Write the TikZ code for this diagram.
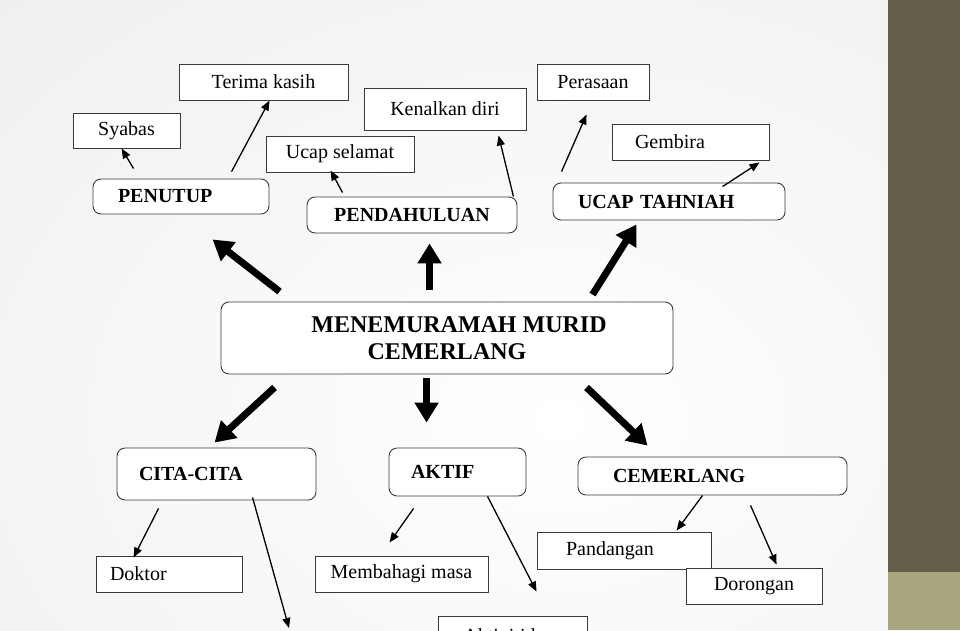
\documentclass[tikz,border=0pt]{standalone}
\usepackage{fontspec}
\setmainfont{Liberation Serif}
\usetikzlibrary{arrows.meta}
\definecolor{jalur}{HTML}{655E49}
\definecolor{jalurbawah}{HTML}{A8A67E}
\definecolor{garis}{HTML}{3A3A3A}
\tikzset{
  kotak/.style={draw=garis, line width=0.9pt, fill=white, minimum height=36pt,
    inner xsep=10pt, font=\fontsize{20}{22}\selectfont},
  tajuk/.style={kotak, rounded corners=8pt, font=\bfseries\fontsize{20}{22}\selectfont},
  panah/.style={-{Triangle[length=10pt,width=8pt]}, line width=1.3pt},
  panahbesar/.style={-{Triangle[length=20pt,width=23pt]}, line width=7pt},
}
\begin{document}
\begin{tikzpicture}[x=1pt,y=-1pt]
  % Latar belakang
  \useasboundingbox (0,0) rectangle (960,630);
  \clip (0,0) rectangle (960,630);
  \fill[white] (0,0) rectangle (888,630);
  \shade[inner color=white, outer color=black!11] (-840,-630) rectangle (1960,1470);
  \fill[jalur] (888,0) rectangle (960,572);
  \fill[jalurbawah] (888,572) rectangle (960,630);

  % Tajuk utama
  \node[tajuk, minimum width=452pt, minimum height=72pt, align=center,
    font=\bfseries\fontsize{24}{27}\selectfont] (utama) at (447,338)
    {\hspace*{24pt}MENEMURAMAH MURID\\CEMERLANG};

  % Cabang atas
  \node[tajuk, text width=126pt, inner xsep=25pt, align=left, minimum height=35pt]
    (penutup) at (181,196.5) {PENUTUP};
  \node[tajuk, minimum width=210pt] (pendahuluan) at (412,215) {PENDAHULUAN};
  \node[tajuk, text width=182pt, inner xsep=25pt, align=left, minimum height=37pt]
    (tahniah) at (669,201.5) {UCAP TAHNIAH};

  \node[kotak, minimum width=107pt, minimum height=35pt] (syabas) at (126.5,130.5) {Syabas};
  \node[kotak, minimum width=169pt] (terima) at (263.5,82) {Terima kasih};
  \node[kotak, minimum width=148pt] (selamat) at (340,154) {Ucap selamat};
  \node[kotak, minimum width=162pt, minimum height=42pt] (kenal) at (445,109) {Kenalkan diri};
  \node[kotak, minimum width=112pt] (perasaan) at (593,82) {Perasaan};
  \node[kotak, text width=111pt, inner xsep=23pt, align=left] (gembira) at (690.5,142) {Gembira};

  % Cabang bawah
  \node[tajuk, text width=155pt, inner xsep=22pt, align=left, minimum height=52pt]
    (cita) at (216.5,474) {CITA-CITA};
  \node[tajuk, text width=93pt, inner xsep=22pt, align=left, minimum height=48pt]
    (aktif) at (457.5,472) {AKTIF};
  \node[tajuk, text width=199pt, inner xsep=35pt, align=left, minimum height=38pt]
    (cemerlang) at (712.5,476) {CEMERLANG};

  \node[kotak, text width=118pt, inner xsep=14pt, align=left] (doktor) at (169,574) {Doktor};
  \node[kotak, minimum width=173pt] (masa) at (401.5,574) {Membahagi masa};
  \node[kotak, minimum width=149pt, minimum height=40pt] (luar) at (512.5,636) {Aktiviti luar};
  \node[kotak, text width=116pt, inner xsep=29pt, align=left, minimum height=37pt]
    (pandangan) at (624,550.5) {Pandangan};
  \node[kotak, minimum width=136pt] (dorongan) at (754,586) {Dorongan};
  \coordinate (bawah) at (289,628);

  % Anak panah besar
  \draw[panahbesar] ([xshift=59pt,yshift=10pt]utama.north west) -- ([xshift=120pt,yshift=-25pt]penutup.south west);
  \draw[panahbesar] ([xshift=209pt,yshift=12pt]utama.north west) -- ([xshift=123pt,yshift=-10pt]pendahuluan.south west);
  \draw[panahbesar] ([xshift=372pt,yshift=7pt]utama.north west) -- ([xshift=84pt,yshift=-4pt]tahniah.south west);
  \draw[panahbesar] ([xshift=54pt,yshift=-13pt]utama.south west) -- ([xshift=98pt,yshift=5pt]cita.north west);
  \draw[panahbesar] ([xshift=206pt,yshift=-4pt]utama.south west) -- ([xshift=38pt,yshift=25pt]aktif.north west);
  \draw[panahbesar] ([xshift=366pt,yshift=-13pt]utama.south west) -- ([xshift=70pt,yshift=11pt]cemerlang.north west);

  % Anak panah kecil
  \draw[panah] ([xshift=41pt,yshift=10pt]penutup.north west) -- ([xshift=49pt]syabas.south west);
  \draw[panah] ([xshift=139pt,yshift=7pt]penutup.north west) -- ([xshift=91pt]terima.south west);
  \draw[panah] ([xshift=36pt,yshift=4pt]pendahuluan.north west) -- ([xshift=65pt,yshift=2pt]selamat.south west);
  \draw[panah] ([xshift=-4pt]pendahuluan.north east) -- ([xshift=135pt,yshift=-5pt]kenal.south west);
  \draw[panah] ([xshift=9pt,yshift=11pt]tahniah.north west) -- ([xshift=50pt,yshift=-14pt]perasaan.south west);
  \draw[panah] ([xshift=170pt,yshift=-4pt]tahniah.north west) -- ([xshift=148pt,yshift=-2pt]gembira.south west);
  \draw[panah] ([xshift=42pt,yshift=-8pt]cita.south west) -- ([xshift=38pt,yshift=-2pt]doktor.north west);
  \draw[panah] ([xshift=136pt,yshift=3pt]cita.south west) -- (bawah);
  \draw[panah] ([xshift=25pt,yshift=-12pt]aktif.south west) -- ([xshift=75pt,yshift=13pt]masa.north west);
  \draw[panah] ([xshift=99pt]aktif.south west) -- ([xshift=99pt,yshift=24pt]luar.north west);
  \draw[panah] ([xshift=125pt]cemerlang.south west) -- ([xshift=140pt,yshift=1pt]pandangan.north west);
  \draw[panah] ([xshift=173pt,yshift=-10pt]cemerlang.south west) -- ([xshift=91pt,yshift=3pt]dorongan.north west);
\end{tikzpicture}
\end{document}
